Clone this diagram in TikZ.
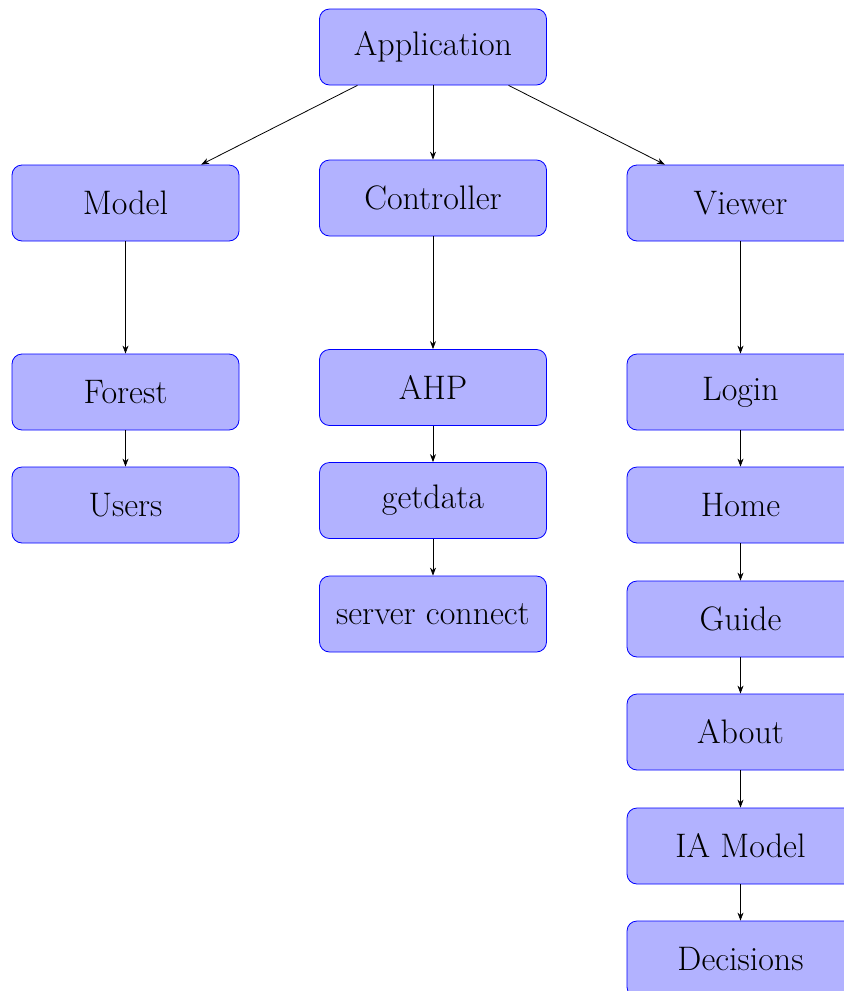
\documentclass[tikz,border=0pt]{standalone}
\usetikzlibrary{arrows.meta}
\begin{document}
\begin{tikzpicture}[x=0.5pt,y=-0.5pt,
  box/.style={draw=blue, fill=blue!30, rounded corners=5pt, minimum width=113.5pt, minimum height=38pt, inner sep=0pt, font=\fontsize{17}{20}\selectfont},
  link/.style={-{Stealth[length=4pt,width=3pt]}, line width=0.4pt}]
\useasboundingbox (0,0) rectangle (844,991);
\clip (0,0) rectangle (844,991);
\node[box] (app) at (433,47) {Application};
\node[box] (model) at (125.5,203) {Model};
\node[box] (ctrl) at (433,198) {Controller};
\node[box] (view) at (740.5,203) {Viewer};
\node[box] (forest) at (125.5,392) {Forest};
\node[box] (users) at (125.5,505) {Users};
\node[box] (ahp) at (433,387.5) {AHP};
\node[box] (getdata) at (433,500.5) {getdata};
\node[box] (server) at (433,614) {server connect};
\node[box] (login) at (740.5,392) {Login};
\node[box] (home) at (740.5,505) {Home};
\node[box] (guide) at (740.5,619) {Guide};
\node[box] (about) at (740.5,732) {About};
\node[box] (ia) at (740.5,846) {IA Model};
\node[box] (dec) at (740.5,959) {Decisions};
\draw[link] (app) -- (model);
\draw[link] (app) -- (ctrl);
\draw[link] (app) -- (view);
\draw[link] (model) -- (forest);
\draw[link] (forest) -- (users);
\draw[link] (ctrl) -- (ahp);
\draw[link] (ahp) -- (getdata);
\draw[link] (getdata) -- (server);
\draw[link] (view) -- (login);
\draw[link] (login) -- (home);
\draw[link] (home) -- (guide);
\draw[link] (guide) -- (about);
\draw[link] (about) -- (ia);
\draw[link] (ia) -- (dec);
\end{tikzpicture}
\end{document}
